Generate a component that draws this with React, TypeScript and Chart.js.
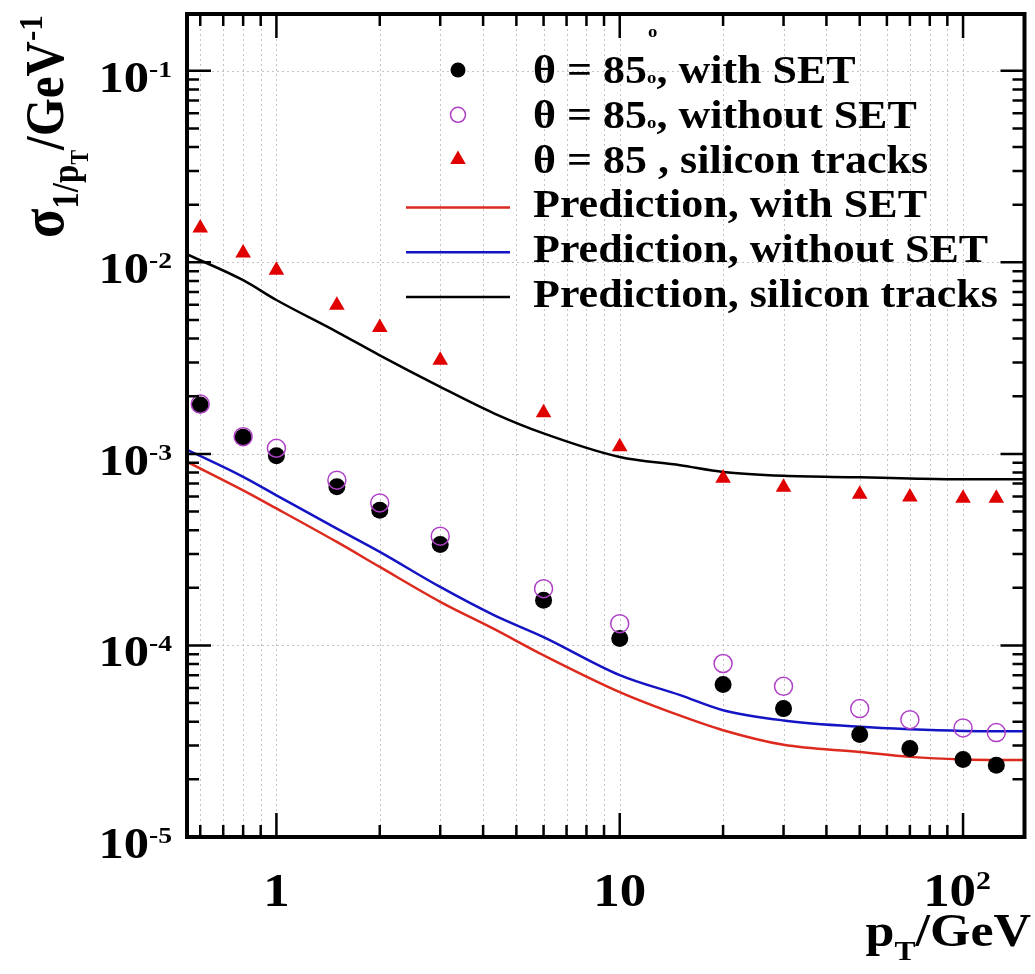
import React, { useEffect, useRef } from "react";
import { Chart, registerables } from "chart.js";

Chart.register(...registerables);

// ---- data ----
const ptPoints = [0.6, 0.8, 1, 1.5, 2, 3, 6, 10, 20, 30, 50, 70, 100, 125];
const withSET = [0.0018, 0.00122, 0.000977, 0.000673, 0.000508, 0.000337, 0.000172, 0.0001086, 0.0000625, 0.0000468, 0.0000343, 0.000029, 0.0000254, 0.0000237];
const withoutSET = [0.00182, 0.00123, 0.00107, 0.000729, 0.000555, 0.000372, 0.000198, 0.00013, 0.0000805, 0.0000612, 0.0000468, 0.000041, 0.0000371, 0.0000351];
const siliconTracks = [0.0151, 0.0112, 0.0091, 0.00597, 0.00457, 0.00308, 0.00164, 0.00109, 0.000747, 0.00067, 0.000616, 0.000596, 0.000587, 0.000587];

const predPt = [0.55, 0.8, 1, 1.5, 2, 3, 4.3, 6, 10, 15, 20, 30, 50, 70, 100, 150];
const predWithSET = [0.000908, 0.000645, 0.000519, 0.000347, 0.000257, 0.000169, 0.000122, 0.0000889, 0.0000571, 0.000043, 0.0000361, 0.0000303, 0.0000278, 0.0000262, 0.0000254, 0.0000252];
const predWithoutSET = [0.00105, 0.000759, 0.000608, 0.000407, 0.000308, 0.000202, 0.000144, 0.0001106, 0.00007, 0.000055, 0.0000459, 0.0000406, 0.0000376, 0.0000365, 0.0000358, 0.0000356];
const predSilicon = [0.011, 0.00807, 0.00636, 0.00434, 0.00327, 0.00224, 0.00163, 0.00128, 0.000964, 0.000873, 0.000805, 0.000768, 0.000755, 0.000745, 0.000738, 0.000738];

const xMin = 0.549;
const xMax = 151;
const yMin = 1e-5;
const yMax = 0.198;

const xMajorTicks = [1, 10, 100];
const yMajorTicks = [1e-5, 1e-4, 1e-3, 1e-2, 1e-1];
const xTickLabels = ["1", "10", "10|2"];
const yTickLabels = ["10|-5", "10|-4", "10|-3", "10|-2", "10|-1"];

const legendLabels = [
  "θ = 85° , with SET",
  "θ = 85° , without SET",
  "θ = 85 , silicon tracks",
  "Prediction, with SET",
  "Prediction, without SET",
  "Prediction, silicon tracks",
];

const RED = "#dd2a1e";
const BLUE = "#1414c4";
const PURPLE = "#b040c8";
const FONT = '"Liberation Serif", "Times New Roman", serif';

type Run = { t: string; size: number; dy?: number };

function runsWidth(ctx: CanvasRenderingContext2D, runs: Run[]) {
  return runs.map((r) => {
    ctx.font = `bold ${r.size}px ${FONT}`;
    return ctx.measureText(r.t).width;
  });
}

function drawRuns(
  ctx: CanvasRenderingContext2D,
  runs: Run[],
  x: number,
  y: number,
  sx: number,
  align: "left" | "right" | "center",
  rotate = false
) {
  const widths = runsWidth(ctx, runs);
  const total = widths.reduce((a, b) => a + b, 0);
  let cx = align === "left" ? 0 : align === "right" ? -total : -total / 2;
  ctx.save();
  ctx.translate(x, y);
  if (rotate) {
    ctx.rotate(-Math.PI / 2);
    ctx.scale(1, sx);
  } else {
    ctx.scale(sx, 1);
  }
  ctx.fillStyle = "#000";
  ctx.textAlign = "left";
  ctx.textBaseline = "alphabetic";
  runs.forEach((r, i) => {
    ctx.font = `bold ${r.size}px ${FONT}`;
    ctx.fillText(r.t, cx, r.dy || 0);
    cx += widths[i];
  });
  ctx.restore();
}

function labelRuns(label: string, main: number, sup: number, dy: number): Run[] {
  const [base, exp] = label.split("|");
  const runs: Run[] = [{ t: base, size: main }];
  if (exp) runs.push({ t: exp, size: sup, dy });
  return runs;
}

const gridPlugin = {
  id: "rootGrid",
  beforeDatasetsDraw(chart: any) {
    const { ctx, chartArea: a, scales } = chart;
    const xs = scales.x;
    const ys = scales.y;
    ctx.save();
    ctx.strokeStyle = "#c4c4c4";
    ctx.lineWidth = 1;
    ctx.setLineDash([2, 3]);
    for (let d = -1; d <= 2; d++) {
      for (let m = 1; m <= 9; m++) {
        const v = m * Math.pow(10, d);
        if (v <= xMin || v >= xMax) continue;
        const px = Math.round(xs.getPixelForValue(v)) + 0.5;
        ctx.beginPath();
        ctx.moveTo(px, a.top);
        ctx.lineTo(px, a.bottom);
        ctx.stroke();
      }
    }
    for (const v of yMajorTicks) {
      if (v <= yMin || v >= yMax) continue;
      const py = Math.round(ys.getPixelForValue(v)) + 0.5;
      ctx.beginPath();
      ctx.moveTo(a.left, py);
      ctx.lineTo(a.right, py);
      ctx.stroke();
    }
    ctx.restore();
  },
};

function drawMarker(ctx: CanvasRenderingContext2D, kind: string, x: number, y: number, r: number) {
  ctx.save();
  ctx.beginPath();
  if (kind === "dot") {
    ctx.fillStyle = "#000";
    ctx.arc(x, y, r, 0, Math.PI * 2);
    ctx.fill();
  } else if (kind === "open") {
    ctx.strokeStyle = PURPLE;
    ctx.lineWidth = 1.5;
    ctx.arc(x, y, r, 0, Math.PI * 2);
    ctx.stroke();
  } else {
    ctx.fillStyle = "#e00000";
    for (let k = 0; k < 3; k++) {
      const ang = (k * 2 * Math.PI) / 3;
      const px = x + Math.sin(ang) * r;
      const py = y - Math.cos(ang) * r;
      if (k === 0) ctx.moveTo(px, py);
      else ctx.lineTo(px, py);
    }
    ctx.closePath();
    ctx.fill();
  }
  ctx.restore();
}

const framePlugin = {
  id: "rootFrame",
  afterDraw(chart: any) {
    const { ctx, chartArea: a, scales } = chart;
    const xs = scales.x;
    const ys = scales.y;
    ctx.save();
    // ticks
    ctx.strokeStyle = "#000";
    ctx.lineWidth = 2.5;
    const MAJ = 24;
    const MIN = 12;
    for (let d = -1; d <= 2; d++) {
      for (let m = 1; m <= 9; m++) {
        const v = m * Math.pow(10, d);
        if (v <= xMin || v >= xMax) continue;
        const px = xs.getPixelForValue(v);
        const len = m === 1 ? MAJ : MIN;
        ctx.beginPath();
        ctx.moveTo(px, a.bottom);
        ctx.lineTo(px, a.bottom - len);
        ctx.moveTo(px, a.top);
        ctx.lineTo(px, a.top + len);
        ctx.stroke();
      }
    }
    for (let d = -5; d <= -1; d++) {
      for (let m = 1; m <= 9; m++) {
        const v = m * Math.pow(10, d);
        if (v < yMin || v >= yMax) continue;
        const py = ys.getPixelForValue(v);
        const len = m === 1 ? MAJ : MIN;
        ctx.beginPath();
        ctx.moveTo(a.left, py);
        ctx.lineTo(a.left + len, py);
        ctx.moveTo(a.right, py);
        ctx.lineTo(a.right - len, py);
        ctx.stroke();
      }
    }
    // frame
    ctx.lineWidth = 4;
    ctx.strokeRect(a.left, a.top, a.right - a.left, a.bottom - a.top);

    // y tick labels
    yMajorTicks.forEach((v, i) => {
      const py = ys.getPixelForValue(v);
      drawRuns(ctx, labelRuns(yTickLabels[i], 44, 24, -15), 172, py + 21, 1.15, "right");
    });
    // x tick labels
    xMajorTicks.forEach((v, i) => {
      const px = xs.getPixelForValue(v);
      const lab = xTickLabels[i];
      const runs = labelRuns(lab, 46, 26, -17);
      const shift = lab.includes("|") ? -6 : 0;
      drawRuns(ctx, runs, px + shift, 906, 1.15, "center");
    });
    // x title
    drawRuns(
      ctx,
      [
        { t: "p", size: 46 },
        { t: "T", size: 28, dy: 14 },
        { t: "/GeV", size: 46 },
      ],
      1031,
      946,
      1.13,
      "right"
    );
    // y title (rotated)
    drawRuns(
      ctx,
      [
        { t: "σ", size: 54 },
        { t: "1/p", size: 33, dy: 13 },
        { t: "T", size: 22, dy: 22 },
        { t: "/GeV", size: 49 },
        { t: "-1", size: 31, dy: -19 },
      ],
      63,
      238,
      1.12,
      "left",
      true
    );

    // legend
    const x0 = 533;
    const base0 = 83;
    const step = 44.8;
    const kinds = ["dot", "open", "tri"];
    legendLabels.forEach((lab, i) => {
      const by = base0 + i * step;
      let runs: Run[];
      if (i < 2) {
        const [pre, post] = lab.split("° ");
        runs = [
          { t: pre, size: 40 },
          { t: "o", size: 17 },
          { t: post, size: 40 },
        ];
      } else {
        runs = [{ t: lab, size: 40 }];
      }
      drawRuns(ctx, runs, x0, by, 1.1, "left");
      if (i < 3) {
        drawMarker(ctx, kinds[i], 458, by - 13, kinds[i] === "tri" ? 9 : 7.5);
      } else {
        const col = i === 3 ? RED : i === 4 ? BLUE : "#000";
        ctx.strokeStyle = col;
        ctx.lineWidth = 2.5;
        ctx.beginPath();
        ctx.moveTo(406, by - 10);
        ctx.lineTo(510, by - 10);
        ctx.stroke();
      }
    });
    // stray degree sign from the original rendering
    drawRuns(ctx, [{ t: "o", size: 17 }], 648, 37, 1.1, "left");
    ctx.restore();
  },
};

export default function App() {
  const ref = useRef<HTMLCanvasElement | null>(null);

  useEffect(() => {
    if (!ref.current) return;
    const pts = (ys: number[]) => ptPoints.map((x, i) => ({ x, y: ys[i] }));
    const line = (ys: number[]) => predPt.map((x, i) => ({ x, y: ys[i] }));
    const chart = new Chart(ref.current, {
      type: "line",
      data: {
        datasets: [
          {
            label: legendLabels[1],
            data: pts(withoutSET),
            showLine: false,
            pointStyle: "circle",
            pointRadius: 9,
            pointBorderWidth: 1.5,
            pointBorderColor: PURPLE,
            pointBackgroundColor: "rgba(0,0,0,0)",
            borderColor: PURPLE,
          },
          {
            label: legendLabels[0],
            data: pts(withSET),
            showLine: false,
            pointStyle: "circle",
            pointRadius: 8.5,
            pointBorderWidth: 0,
            pointBackgroundColor: "#000",
            borderColor: "#000",
          },
          {
            label: legendLabels[2],
            data: pts(siliconTracks),
            showLine: false,
            pointStyle: "triangle",
            pointRadius: 9,
            pointBorderWidth: 0,
            pointBackgroundColor: "#e00000",
            borderColor: "#e00000",
          },
          {
            label: legendLabels[3],
            data: line(predWithSET),
            borderColor: RED,
            borderWidth: 2.5,
            pointRadius: 0,
            cubicInterpolationMode: "monotone",
          },
          {
            label: legendLabels[4],
            data: line(predWithoutSET),
            borderColor: BLUE,
            borderWidth: 2.5,
            pointRadius: 0,
            cubicInterpolationMode: "monotone",
          },
          {
            label: legendLabels[5],
            data: line(predSilicon),
            borderColor: "#000",
            borderWidth: 2.5,
            pointRadius: 0,
            cubicInterpolationMode: "monotone",
          },
        ],
      },
      options: {
        animation: false,
        responsive: false,
        devicePixelRatio: 1,
        layout: { padding: { left: 187, top: 14, right: 4, bottom: 137 } },
        plugins: { legend: { display: false }, tooltip: { enabled: false }, title: { display: false } },
        scales: {
          x: { type: "logarithmic", min: xMin, max: xMax, display: false },
          y: { type: "logarithmic", min: yMin, max: yMax, display: false },
        },
      },
      plugins: [gridPlugin, framePlugin],
    } as any);
    return () => chart.destroy();
  }, []);

  return (
    <div style={{ position: "absolute", left: 0, top: 0, width: 1035, height: 974, background: "#fff" }}>
      <canvas ref={ref} width={1035} height={974} style={{ width: 1035, height: 974, display: "block" }} />
    </div>
  );
}
